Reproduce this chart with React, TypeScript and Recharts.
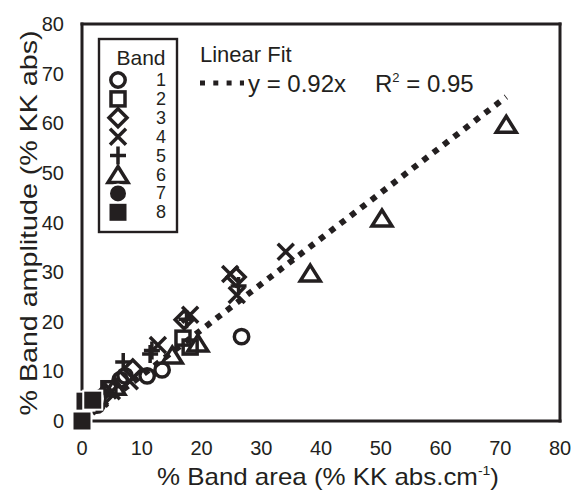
import React from 'react';
import { ScatterChart, Scatter, XAxis, YAxis, ReferenceLine } from 'recharts';

const INK = '#231f20';
const FONT = '"Liberation Sans", Arial, Helvetica, sans-serif';

// axis ticks
const xTicks = [0, 10, 20, 30, 40, 50, 60, 70, 80];
const yTicks = [0, 10, 20, 30, 40, 50, 60, 70, 80];

// points per band
const band1 = [
  { x: 26.7, y: 17 }, { x: 13.4, y: 10.3 }, { x: 10.9, y: 9.1 }, { x: 7.2, y: 9.1 },
  { x: 6.4, y: 8.3 }, { x: 2.5, y: 3.2 },
];
const band2 = [
  { x: 16.9, y: 16.7 }, { x: 18.1, y: 14.9 }, { x: 4.5, y: 6.5 }, { x: 1.5, y: 3.5 },
];
const band3 = [
  { x: 17.1, y: 20.4 }, { x: 25.8, y: 29.0 }, { x: 3.5, y: 5.0 }, { x: 8.5, y: 10.5 },
];
const band4 = [
  { x: 18.1, y: 21.4 }, { x: 24.8, y: 29.6 }, { x: 25.9, y: 25.4 }, { x: 34.1, y: 34.1 },
  { x: 12.7, y: 15.3 }, { x: 5.0, y: 6.0 }, { x: 3.0, y: 4.5 }, { x: 8.0, y: 8.0 },
];
const band5 = [
  { x: 26.2, y: 27.2 }, { x: 11.4, y: 13.5 }, { x: 6.9, y: 11.9 }, { x: 11.7, y: 14.2 },
  { x: 17.5, y: 20.5 }, { x: 3.8, y: 6.0 },
];
const band6 = [
  { x: 71.0, y: 59.8 }, { x: 50.2, y: 40.9 }, { x: 38.2, y: 29.8 }, { x: 19.4, y: 15.7 },
  { x: 15.1, y: 13.3 }, { x: 5.5, y: 7.0 },
];
const band7 = [{ x: 2.0, y: 4.5 }, { x: 1.0, y: 3.8 }];
const band8 = [{ x: 0, y: 0 }, { x: 0.5, y: 4.0 }, { x: 1.8, y: 4.2 }];

const bandNames = ['1', '2', '3', '4', '5', '6', '7', '8'];
const bandKinds = ['circle', 'square', 'diamond', 'cross', 'plus', 'triangle', 'dot', 'block'];
const bandData = [band1, band2, band3, band4, band5, band6, band7, band8];

// dotted fit line y = 0.92x
const fitLine = [{ x: 0, y: 0 }, { x: 71, y: 65.3 }];

const Marker = ({ kind, cx, cy }: any) => {
  const sw = 3.5;
  const open = { fill: 'none', stroke: INK, strokeWidth: sw };
  const solid = { fill: INK, stroke: '#fff', strokeWidth: 2 };
  switch (kind) {
    case 'circle':
      return <circle cx={cx} cy={cy} r={7.2} {...open} />;
    case 'square':
      return <rect x={cx - 7} y={cy - 7} width={14} height={14} {...open} />;
    case 'diamond':
      return <path d={`M${cx} ${cy - 9}L${cx + 9} ${cy}L${cx} ${cy + 9}L${cx - 9} ${cy}Z`} {...open} />;
    case 'cross':
      return <path d={`M${cx - 8} ${cy - 8}L${cx + 8} ${cy + 8}M${cx - 8} ${cy + 8}L${cx + 8} ${cy - 8}`} {...open} />;
    case 'plus':
      return <path d={`M${cx - 8} ${cy}L${cx + 8} ${cy}M${cx} ${cy - 9}L${cx} ${cy + 9}`} {...open} />;
    case 'triangle':
      return <path d={`M${cx} ${cy - 8}L${cx + 10} ${cy + 8}L${cx - 10} ${cy + 8}Z`} {...open} />;
    case 'dot':
      return <circle cx={cx} cy={cy} r={9} {...solid} />;
    default:
      return <rect x={cx - 9.5} y={cy - 9.5} width={19} height={19} {...solid} />;
  }
};

const XTitle = ({ viewBox }: any) => (
  <text
    x={viewBox.x + viewBox.width / 2 + 7}
    y={485}
    textAnchor="middle"
    fontSize={24}
    fontFamily={FONT}
    fill={INK}
    textLength={342}
    lengthAdjust="spacingAndGlyphs"
  >
    % Band area (% KK abs.cm
    <tspan dy={-10} fontSize={13}>-1</tspan>
    <tspan dy={10}>)</tspan>
  </text>
);

const YTitle = () => (
  <text
    x={28}
    y={223}
    transform="rotate(-90 28 223)"
    textAnchor="middle"
    dominantBaseline="central"
    fontSize={24}
    fontFamily={FONT}
    fill={INK}
    textLength={385}
    lengthAdjust="spacingAndGlyphs"
  >
    % Band amplitude (% KK abs)
  </text>
);

const LegendOverlay = () => (
  <svg width={576} height={491} style={{ position: 'absolute', left: 0, top: 0, pointerEvents: 'none' }}>
    <rect x={99} y={39} width={78} height={193} fill="none" stroke={INK} strokeWidth={2.4} />
    <text x={141} y={65} textAnchor="middle" fontSize={21} fontFamily={FONT} fill={INK}>Band</text>
    {bandNames.map((name, i) => {
      const cy = 80 + i * 18.9;
      return (
        <g key={name}>
          <Marker kind={bandKinds[i]} cx={118} cy={cy} />
          <text x={161} y={cy} textAnchor="middle" dominantBaseline="central" fontSize={18} fontFamily={FONT} fill={INK}>
            {name}
          </text>
        </g>
      );
    })}
    <text x={200} y={62} fontSize={22} fontFamily={FONT} fill={INK}>Linear Fit</text>
    <line x1={200} y1={83} x2={244} y2={83} stroke={INK} strokeWidth={5} strokeDasharray="5 8.3" />
    <text x={248} y={92} fontSize={24} fontFamily={FONT} fill={INK}>y = 0.92x</text>
    <text x={375} y={92} fontSize={24} fontFamily={FONT} fill={INK}>
      R<tspan dy={-10} fontSize={13}>2</tspan>
      <tspan dy={10}> = 0.95</tspan>
    </text>
  </svg>
);

const frame = { stroke: INK, strokeWidth: 3, strokeLinecap: 'square' as const };

export default function App() {
  return (
    <div style={{ position: 'absolute', left: 0, top: 0, width: 576, height: 491, background: '#fff' }}>
      <ScatterChart width={576} height={491} margin={{ top: 24, right: 16, bottom: 0, left: 12 }}>
        <XAxis
          xAxisId="main"
          type="number"
          dataKey="x"
          domain={[0, 80]}
          ticks={xTicks}
          height={70}
          tickLine={false}
          tickSize={6}
          tickMargin={14}
          axisLine={frame}
          tick={{ fill: INK, fontSize: 20, fontFamily: FONT }}
          label={(p: any) => <XTitle {...p} />}
        />
        <XAxis xAxisId="inner" type="number" domain={[0, 80]} ticks={xTicks} allowDataOverflow mirror
          tick={false} axisLine={false} tickSize={8} tickLine={{ stroke: INK, strokeWidth: 3 }} />
        <XAxis xAxisId="top" orientation="top" type="number" domain={[0, 80]} ticks={xTicks} allowDataOverflow mirror
          tick={false} axisLine={frame} tickSize={8} tickLine={{ stroke: INK, strokeWidth: 3 }} />
        <YAxis
          yAxisId="main"
          type="number"
          dataKey="y"
          domain={[0, 80]}
          ticks={yTicks}
          width={70}
          tickLine={false}
          tickSize={6}
          tickMargin={12}
          axisLine={frame}
          tick={{ fill: INK, fontSize: 20, fontFamily: FONT }}
          label={() => <YTitle />}
        />
        <YAxis yAxisId="inner" type="number" domain={[0, 80]} ticks={yTicks} allowDataOverflow mirror
          tick={false} axisLine={false} tickSize={8} tickLine={{ stroke: INK, strokeWidth: 3 }} />
        <YAxis yAxisId="right" orientation="right" type="number" domain={[0, 80]} ticks={yTicks} allowDataOverflow mirror
          tick={false} axisLine={frame} tickSize={8} tickLine={{ stroke: INK, strokeWidth: 3 }} />
        <ReferenceLine
          xAxisId="main"
          yAxisId="main"
          segment={fitLine}
          stroke={INK}
          strokeWidth={6}
          strokeDasharray="6 7"
        />
        {bandData.map((data, i) => (
          <Scatter
            key={bandNames[i]}
            xAxisId="main"
            yAxisId="main"
            data={data}
            isAnimationActive={false}
            shape={(p: any) => <Marker kind={bandKinds[i]} cx={p.cx} cy={p.cy} />}
          />
        ))}
      </ScatterChart>
      <LegendOverlay />
    </div>
  );
}
